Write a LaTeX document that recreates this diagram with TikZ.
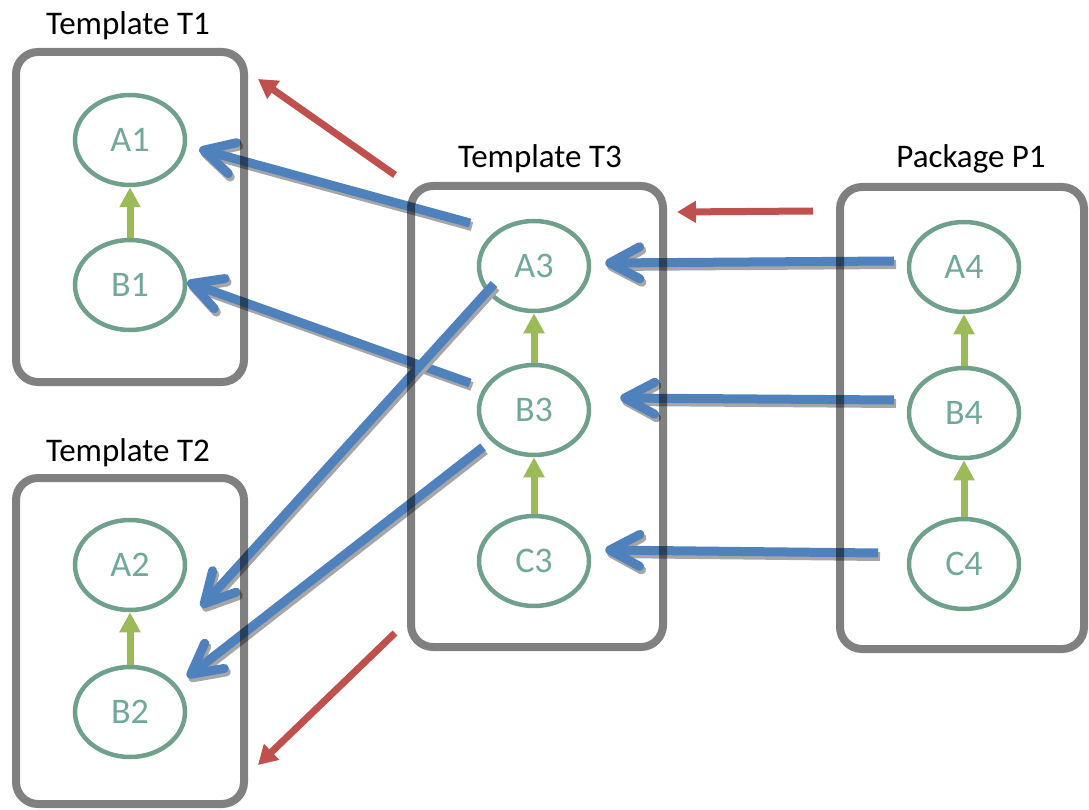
\documentclass[tikz,border=0pt]{standalone}
\usepackage{fontspec}
\setmainfont{Carlito}
\usetikzlibrary{arrows.meta,shapes.geometric}

\definecolor{boxgray}{HTML}{808080}
\definecolor{ringgreen}{HTML}{6EA08C}
\definecolor{labelteal}{HTML}{72A89A}
\definecolor{linkblue}{HTML}{4F81BD}
\definecolor{linkshadow}{HTML}{A6A6A6}
\definecolor{flowred}{HTML}{C0504D}
\definecolor{stepgreen}{HTML}{9BBB59}

\tikzset{
  container/.style={draw=boxgray, line width=8pt, rounded corners=22pt, blend mode=multiply},
  title/.style={anchor=base, font=\fontsize{33}{36}\selectfont, text=black},
  element/.style={ellipse, draw=ringgreen, line width=4.5pt, minimum width=110pt,
    minimum height=90pt, inner sep=0pt, fill=none,
    font=\fontsize{36}{38}\selectfont, text=labelteal},
  usage/.style={draw=linkblue, line width=9pt,
    -{Straight Barb[length=30pt, width=32pt, round]}},
  usage shadow/.style={usage, draw=linkshadow,
    transform canvas={xshift=2pt, yshift=-3.5pt}},
  derive/.style={draw=stepgreen, line width=7pt, -{Triangle[length=20pt, width=20pt]}},
  flow/.style={draw=flowred, line width=7pt, -{Triangle[length=19pt, width=21pt]}}
}
% a link with its drop shadow
\newcommand\shadowlink[2]{%
  \draw[usage shadow] #1 -- #2;
  \draw[usage] #1 -- #2;}

\begin{document}
\begin{tikzpicture}[x=1pt, y=-1pt]
  \useasboundingbox (0,0) rectangle (1089,810);

  % titles
  \node[title] (tT1) at (128,35)  {Template T1};
  \node[title] (tT2) at (128,461) {Template T2};
  \node[title] (tT3) at (540,168) {Template T3};
  \node[title] (tP1) at (971,168) {Package P1};

  % elements
  \node[element] (A1) at (130,140) {A1};
  \node[element] (B1) at (130,285) {B1};
  \node[element] (A2) at (130,565) {A2};
  \node[element] (B2) at (130,712) {B2};
  \node[element] (A3) at (534,266) {A3};
  \node[element] (B3) at (534,410) {B3};
  \node[element] (C3) at (534,561) {C3};
  \node[element] (A4) at (964,267) {A4};
  \node[element] (B4) at (964,413) {B4};
  \node[element] (C4) at (964,564) {C4};

  % inheritance inside each container
  \draw[derive] (B1.north) -- (A1.south);
  \draw[derive] (B2.north) -- (A2.south);
  \draw[derive] (B3.north) -- (A3.south);
  \draw[derive] (C3.north) -- (B3.south);
  \draw[derive] (B4.north) -- (A4.south);
  \draw[derive] (C4.north) -- (B4.south);

  % start points of the links, just outside the source elements
  \coordinate (s1) at (470,223);
  \coordinate (s2) at (470,383);
  \coordinate (s3) at (494,284);
  \coordinate (s4) at (483,447);
  \coordinate (s5) at (894,261);
  \coordinate (s6) at (894,400);
  \coordinate (s7) at (878,553);

  % links between elements
  \shadowlink{(s1)}{([xshift=12pt, yshift=-9pt]A1.east)}
  \shadowlink{(s2)}{([xshift=0pt, yshift=3pt]B1.east)}
  \shadowlink{(s3)}{([xshift=14pt, yshift=-42pt]A2.east)}
  \shadowlink{(s4)}{([xshift=0pt, yshift=35pt]B2.east)}
  \shadowlink{(s5)}{([xshift=14pt, yshift=3pt]A3.east)}
  \shadowlink{(s6)}{([xshift=29pt, yshift=12pt]B3.east)}
  \shadowlink{(s7)}{([xshift=14pt, yshift=11pt]C3.east)}

  % containers
  \node[container, minimum width=228pt, minimum height=330pt] (T1) at (130,217) {};
  \node[container, minimum width=228pt, minimum height=326pt] (T2) at (130,641) {};
  \node[container, minimum width=252pt, minimum height=461pt] (T3) at (537,416.5) {};
  \node[container, minimum width=244pt, minimum height=462pt] (P1) at (962,418) {};

  % flow between containers
  \coordinate (r1s) at (395,175);
  \coordinate (r1e) at (258,79);
  \coordinate (r2s) at (813,211);
  \coordinate (r2e) at (677,212);
  \coordinate (r3s) at (395,633);
  \coordinate (r3e) at (258,765);
  \draw[flow] (r1s) -- (r1e);
  \draw[flow] (r2s) -- (r2e);
  \draw[flow] (r3s) -- (r3e);
\end{tikzpicture}
\end{document}
